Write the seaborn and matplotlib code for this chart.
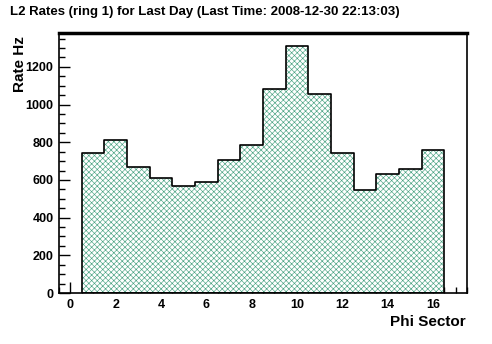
import numpy as np
import pandas as pd
import matplotlib
matplotlib.use("Agg")
import matplotlib.pyplot as plt
import seaborn as sns
from matplotlib.ticker import MultipleLocator

sectors = [1, 2, 3, 4, 5, 6, 7, 8, 9, 10, 11, 12, 13, 14, 15, 16]
rates = [742, 811, 668, 609, 567, 588, 705, 786, 1081, 1312, 1055, 742, 545, 630, 657, 758]
title = "L2 Rates (ring 1) for Last Day (Last Time: 2008-12-30 22:13:03)"
xlabel = "Phi Sector"
ylabel = "Rate Hz"

sns.set_style("ticks")
plt.rcParams['font.family'] = ['Liberation Sans', 'DejaVu Sans']
plt.rcParams['hatch.linewidth'] = 0.45
plt.rcParams['text.color'] = 'black'
plt.rcParams['xtick.color'] = 'black'
plt.rcParams['ytick.color'] = 'black'
plt.rcParams['axes.edgecolor'] = 'black'

fig = plt.figure(figsize=(4.92, 3.44), dpi=100)
ax = fig.add_axes([59/492, (344-293)/344, (467-59)/492, (293-33)/344])

df = pd.DataFrame({"sector": sectors, "rate": rates})
# hatched fill
sns.histplot(data=df, x="sector", weights="rate", binwidth=1.0, binrange=(0.5, 16.5),
             element="step", fill=True, ax=ax, color="black", alpha=1)
n_fill = len(ax.collections)
for coll in ax.collections:
    coll.set_facecolor("white")
    coll.set_edgecolor("#4aa383")
    coll.set_hatch("xxxxxx")
    coll.set_linewidth(0)
# black outline
sns.histplot(data=df, x="sector", weights="rate", binwidth=1.0, binrange=(0.5, 16.5),
             element="step", fill=True, ax=ax, color="black", alpha=1)
for coll in ax.collections[n_fill:]:
    coll.set_facecolor("none")
    coll.set_edgecolor("black")
    coll.set_linewidth(1.2)

ax.set_xlim(-0.5, 17.5)
ax.set_ylim(0, 1380)
ax.xaxis.set_major_locator(MultipleLocator(2))
ax.xaxis.set_minor_locator(MultipleLocator(0.5))
ax.yaxis.set_major_locator(MultipleLocator(200))
ax.yaxis.set_minor_locator(MultipleLocator(50))
ax.tick_params(which='both', direction='in', top=False, right=False, width=1, colors='black')
ax.tick_params(which='major', length=8, labelsize=9, pad=4)
ax.tick_params(which='minor', length=4)
for lab in ax.get_xticklabels() + ax.get_yticklabels():
    lab.set_fontweight('bold')
    lab.set_color('black')
for sp in ax.spines.values():
    sp.set_visible(True)
    sp.set_linewidth(1.2)
    sp.set_color('black')
ax.spines['top'].set_linewidth(2.5)

ax.set_xlabel("")
ax.set_ylabel("")
fig.text(466/492, 1 - 322/344, xlabel, ha='right', va='center', fontsize=11, fontweight='bold', color='black')
fig.text(20/492, 1 - 36/344, ylabel, ha='center', va='top', rotation=90, fontsize=11, fontweight='bold', color='black')
fig.text(10/492, 1 - 12/344, title, ha='left', va='center', fontsize=9.5, fontweight='bold', color='black')

fig.savefig("out.png", dpi=100)
